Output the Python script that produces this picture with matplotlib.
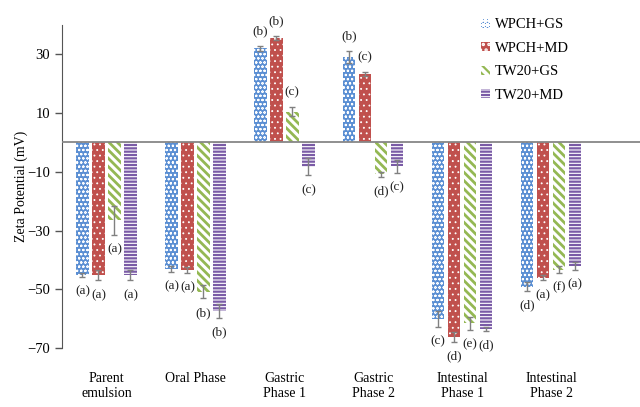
import numpy as np
import matplotlib
matplotlib.use("Agg")
import matplotlib.pyplot as plt
from matplotlib.patches import Patch

plt.rcParams["font.family"] = ["Liberation Serif", "DejaVu Serif"]

PHASES = ["Parent\nemulsion", "Oral Phase", "Gastric\nPhase 1", "Gastric\nPhase 2",
          "Intestinal\nPhase 1", "Intestinal\nPhase 2"]
SERIES = ["WPCH+GS", "WPCH+MD", "TW20+GS", "TW20+MD"]

wpch_gs = [-45.0, -43.0, 32.1, 29.1, -60.0, -49.1]
wpch_md = [-45.3, -43.3, 35.5, 23.2, -66.2, -46.0]
tw20_gs = [-26.5, -50.8, 10.5, -10.8, -61.5, -43.3]
tw20_md = [-45.3, -57.3, -8.2, -8.1, -63.5, -42.0]

wpch_gs_err = [0.7, 1.0, 0.8, 2.2, 2.7, 1.5]
wpch_md_err = [1.7, 1.0, 0.7, 0.7, 1.6, 1.0]
tw20_gs_err = [5.0, 2.3, 1.6, 0.9, 2.2, 1.2]
tw20_md_err = [1.7, 2.4, 3.0, 2.2, 0.6, 1.3]

wpch_gs_let = ["a", "a", "b", "b", "c", "d"]
wpch_md_let = ["a", "a", "b", "c", "d", "a"]
tw20_gs_let = ["a", "b", "c", "d", "e", "f"]
tw20_md_let = ["a", "b", "c", "c", "d", "a"]

values = [wpch_gs, wpch_md, tw20_gs, tw20_md]
errors = [wpch_gs_err, wpch_md_err, tw20_gs_err, tw20_md_err]
letters = [wpch_gs_let, wpch_md_let, tw20_gs_let, tw20_md_let]

# face, hatch colour, hatch pattern, hatch width
STYLES = [
    dict(face="#5B8FD3", hc="white", hatch="oooo", hlw=0.5),
    dict(face="#C0504D", hc="white", hatch="...", hlw=0.6),
    dict(face="white", hc="#94B853", hatch="\\\\\\\\", hlw=2.0),
    dict(face="white", hc="#7A5BA6", hatch="-----", hlw=1.6),
]
ERR_COLOR = "#808080"


def styled_bar(ax, x, h, w, st):
    bars = ax.bar(x, h, w, facecolor=st["face"], edgecolor=st["hc"],
                  hatch=st["hatch"], linewidth=0, zorder=2)
    for b in bars:
        if hasattr(b, "set_hatch_linewidth"):
            b.set_hatch_linewidth(st["hlw"])
    return bars


fig = plt.figure(figsize=(6.4, 4.07), dpi=100)
ax = fig.add_axes([62 / 640, 59 / 407, 578 / 640, 323 / 407])

x = np.arange(len(PHASES))
width = 0.14
offsets = [-0.27, -0.09, 0.09, 0.27]

for i, name in enumerate(SERIES):
    st = STYLES[i]
    plt.rcParams["hatch.linewidth"] = st["hlw"]
    xs = x + offsets[i]
    styled_bar(ax, xs, values[i], width, st)
    ax.errorbar(xs, values[i], yerr=errors[i], fmt="none", ecolor=ERR_COLOR,
                elinewidth=1, capsize=2.5, capthick=1, zorder=3)
    for xi, v, e, let in zip(xs, values[i], errors[i], letters[i]):
        sign = 1 if v > 0 else -1
        ax.annotate(f"({let})", (xi, v + sign * e), xytext=(0, sign * 10.5),
                    textcoords="offset points", ha="center", va="center",
                    fontsize=9.5, color="#222222")

ax.axhline(0, color="#878787", linewidth=1.3, zorder=4)

ax.set_xlim(-0.5, 6.0)
ax.set_ylim(-70, 40)
ax.set_yticks([-70, -50, -30, -10, 10, 30])
ax.tick_params(axis="y", direction="out", length=5, width=1, color="#555555",
               labelsize=10.5)
ax.set_xticks(x, PHASES)
ax.tick_params(axis="x", length=0, pad=17, labelsize=10)
for s in ["top", "right", "bottom"]:
    ax.spines[s].set_visible(False)
ax.spines["left"].set_color("#555555")
ax.set_ylabel("Zeta Potential (mV)", fontsize=10)
ax.yaxis.set_label_coords(-0.059, 0.5)

handles = []
for name, st in zip(SERIES, STYLES):
    plt.rcParams["hatch.linewidth"] = st["hlw"]
    p = Patch(facecolor=st["face"], edgecolor=st["hc"], hatch=st["hatch"],
              linewidth=0, label=name)
    if hasattr(p, "set_hatch_linewidth"):
        p.set_hatch_linewidth(st["hlw"])
    handles.append(p)
fig.legend(handles=handles, loc="upper left", bbox_to_anchor=(474 / 640, 1 - 11 / 407),
           frameon=False, fontsize=10.5, handlelength=0.6, handleheight=0.6,
           handletextpad=0.35, labelspacing=0.72, borderpad=0)

fig.savefig("out.png", dpi=100)
